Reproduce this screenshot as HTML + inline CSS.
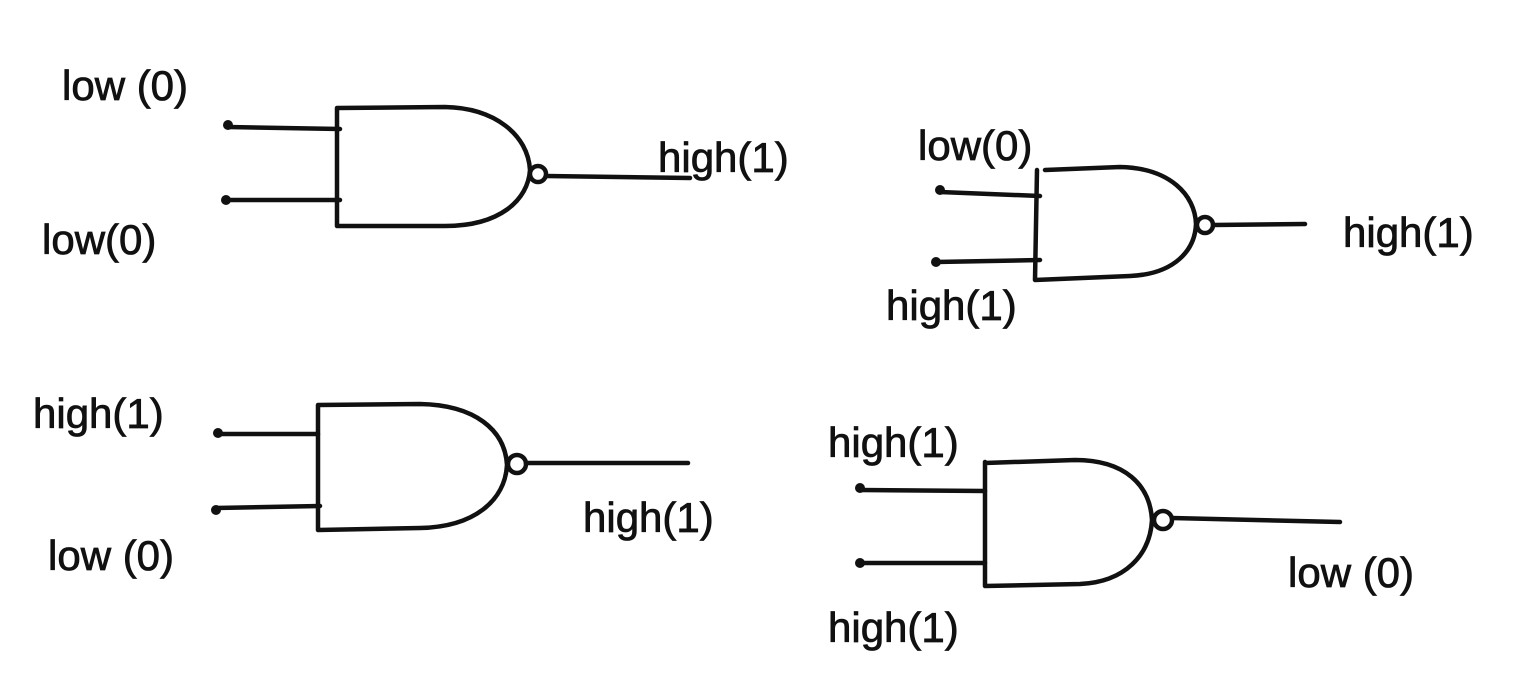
<!DOCTYPE html>
<html><head><meta charset="utf-8"><style>
html,body{margin:0;padding:0;background:#fff;}
svg{display:block}
text{font-family:"Liberation Sans",sans-serif;font-size:42px;fill:#111;stroke:#111;stroke-width:0.8px;}
.w{stroke:#111;stroke-width:4.5;fill:none;stroke-linecap:round;stroke-linejoin:round}
</style></head><body>
<svg width="1540" height="689" viewBox="0 0 1540 689">
<g>
<circle cx="228" cy="125" r="5" fill="#111"/><circle cx="226" cy="200" r="5" fill="#111"/>
<path class="w" d="M228 127 L340 129 M226 200 L340 200"/>
<path class="w" d="M337 108 L337 226 L445 226 C500 226 528 200 530 170 C528 135 495 108 445 107 L337 108"/>
<circle class="w" cx="538" cy="174" r="8"/>
<path class="w" d="M546 176 L690 178"/>
<text x="62" y="100">low (0)</text>
<text x="42" y="254">low(0)</text>
<text x="658" y="172">high(1)</text>
</g>
<g>
<circle cx="940" cy="190" r="5" fill="#111"/><circle cx="936" cy="262" r="5" fill="#111"/>
<path class="w" d="M940 192 L1040 196 M936 262 L1040 260"/>
<path class="w" d="M1037 170 L1035 280 L1130 276 C1175 274 1195 250 1196 224 C1195 195 1170 168 1120 167 L1045 170"/>
<circle class="w" cx="1205" cy="225" r="8"/>
<path class="w" d="M1213 225 L1305 224"/>
<text x="918" y="160">low(0)</text>
<text x="886" y="320">high(1)</text>
<text x="1343" y="247">high(1)</text>
</g>
<g>
<circle cx="218" cy="433" r="5" fill="#111"/><circle cx="216" cy="510" r="5" fill="#111"/>
<path class="w" d="M218 434 L318 434 M216 508 L320 506"/>
<path class="w" d="M318 405 L318 530 L420 528 C475 527 505 500 507 465 C505 430 475 405 420 404 L318 405"/>
<circle class="w" cx="517" cy="464" r="9"/>
<path class="w" d="M526 463 L688 463"/>
<text x="33" y="428">high(1)</text>
<text x="48" y="570">low (0)</text>
<text x="583" y="532">high(1)</text>
</g>
<g>
<circle cx="860" cy="488" r="5" fill="#111"/><circle cx="860" cy="563" r="5" fill="#111"/>
<path class="w" d="M860 490 L985 491 M860 563 L985 563"/>
<path class="w" d="M985 462 L985 586 L1080 584 C1125 582 1150 555 1152 520 C1150 485 1125 460 1075 460 L985 463"/>
<circle class="w" cx="1163" cy="520" r="9"/>
<path class="w" d="M1172 518 L1340 522"/>
<text x="828" y="457">high(1)</text>
<text x="828" y="642">high(1)</text>
<text x="1288" y="587">low (0)</text>
</g>
</svg>
</body></html>
